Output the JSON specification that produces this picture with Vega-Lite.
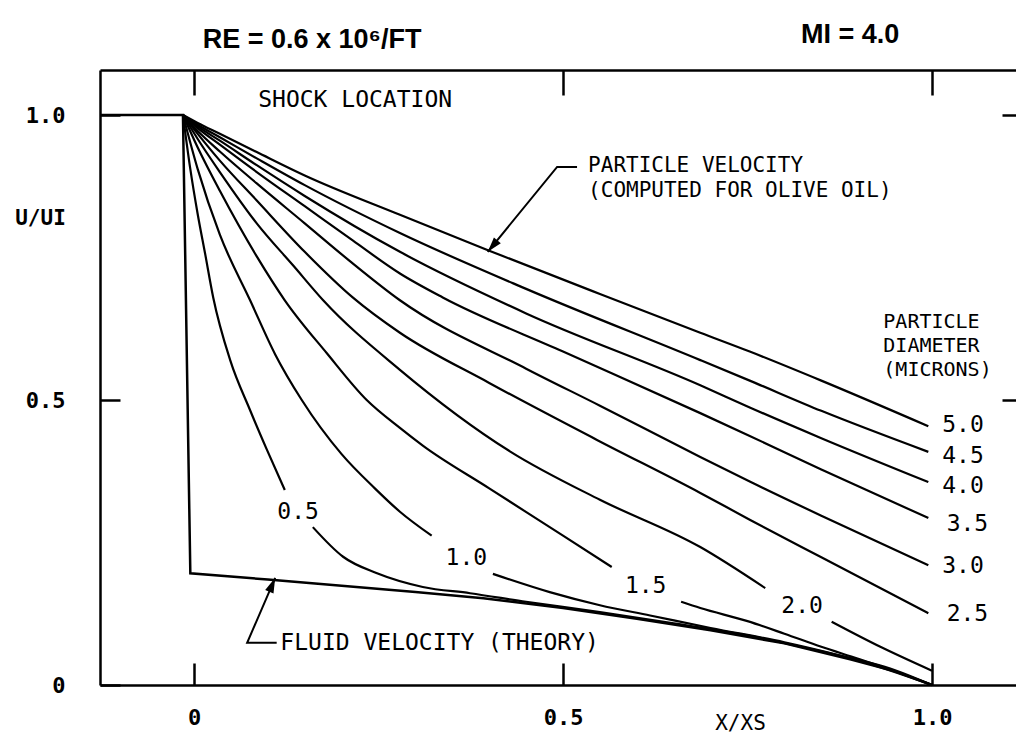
{
  "$schema": "https://vega.github.io/schema/vega-lite/v6.json",
  "width": 916,
  "height": 615,
  "autosize": {"type": "none"},
  "padding": {"left": 100, "top": 70, "right": 0, "bottom": 52},
  "background": "white",
  "config": {"view": {"stroke": null}, "axis": {"grid": false}},
  "datasets": {
    "curves": [
      {"seg":"5.0","x":-0.015,"u":1},{"seg":"5.0","x":0.005,"u":0.986},{"seg":"5.0","x":0.035,"u":0.967},{"seg":"5.0","x":0.085,"u":0.935},{"seg":"5.0","x":0.15,"u":0.894},{"seg":"5.0","x":0.279,"u":0.825},{"seg":"5.0","x":0.4,"u":0.762},{"seg":"5.0","x":0.55,"u":0.686},{"seg":"5.0","x":0.686,"u":0.618},{"seg":"5.0","x":0.753,"u":0.585},{"seg":"5.0","x":0.85,"u":0.534},{"seg":"5.0","x":0.995,"u":0.454},
      {"seg":"4.5","x":-0.015,"u":1},{"seg":"4.5","x":0.005,"u":0.983},{"seg":"4.5","x":0.035,"u":0.961},{"seg":"4.5","x":0.085,"u":0.924},{"seg":"4.5","x":0.15,"u":0.877},{"seg":"4.5","x":0.279,"u":0.793},{"seg":"4.5","x":0.45,"u":0.695},{"seg":"4.5","x":0.686,"u":0.57},{"seg":"4.5","x":0.753,"u":0.534},{"seg":"4.5","x":0.85,"u":0.481},{"seg":"4.5","x":0.995,"u":0.409},
      {"seg":"4.0","x":-0.015,"u":1},{"seg":"4.0","x":0.005,"u":0.98},{"seg":"4.0","x":0.035,"u":0.955},{"seg":"4.0","x":0.085,"u":0.912},{"seg":"4.0","x":0.15,"u":0.858},{"seg":"4.0","x":0.279,"u":0.76},{"seg":"4.0","x":0.45,"u":0.652},{"seg":"4.0","x":0.686,"u":0.526},{"seg":"4.0","x":0.753,"u":0.487},{"seg":"4.0","x":0.85,"u":0.433},{"seg":"4.0","x":0.995,"u":0.356},
      {"seg":"3.5","x":-0.015,"u":1},{"seg":"3.5","x":0.005,"u":0.977},{"seg":"3.5","x":0.035,"u":0.948},{"seg":"3.5","x":0.085,"u":0.9},{"seg":"3.5","x":0.15,"u":0.84},{"seg":"3.5","x":0.215,"u":0.78},{"seg":"3.5","x":0.279,"u":0.722},{"seg":"3.5","x":0.337,"u":0.68},{"seg":"3.5","x":0.5,"u":0.585},{"seg":"3.5","x":0.686,"u":0.477},{"seg":"3.5","x":0.753,"u":0.437},{"seg":"3.5","x":0.85,"u":0.378},{"seg":"3.5","x":0.995,"u":0.293},
      {"seg":"3.0","x":-0.015,"u":1},{"seg":"3.0","x":0.005,"u":0.972},{"seg":"3.0","x":0.035,"u":0.936},{"seg":"3.0","x":0.085,"u":0.88},{"seg":"3.0","x":0.15,"u":0.81},{"seg":"3.0","x":0.21,"u":0.745},{"seg":"3.0","x":0.279,"u":0.675},{"seg":"3.0","x":0.45,"u":0.555},{"seg":"3.0","x":0.55,"u":0.49},{"seg":"3.0","x":0.686,"u":0.4},{"seg":"3.0","x":0.753,"u":0.357},{"seg":"3.0","x":0.85,"u":0.297},{"seg":"3.0","x":0.995,"u":0.21},
      {"seg":"2.5","x":-0.015,"u":1},{"seg":"2.5","x":0.005,"u":0.967},{"seg":"2.5","x":0.035,"u":0.92},{"seg":"2.5","x":0.085,"u":0.85},{"seg":"2.5","x":0.15,"u":0.76},{"seg":"2.5","x":0.215,"u":0.68},{"seg":"2.5","x":0.279,"u":0.618},{"seg":"2.5","x":0.4,"u":0.53},{"seg":"2.5","x":0.546,"u":0.43},{"seg":"2.5","x":0.686,"u":0.337},{"seg":"2.5","x":0.753,"u":0.29},{"seg":"2.5","x":0.85,"u":0.224},{"seg":"2.5","x":0.995,"u":0.126},
      {"seg":"2.0a","x":-0.015,"u":1},{"seg":"2.0a","x":0.005,"u":0.958},{"seg":"2.0a","x":0.035,"u":0.9},{"seg":"2.0a","x":0.085,"u":0.81},{"seg":"2.0a","x":0.135,"u":0.735},{"seg":"2.0a","x":0.175,"u":0.675},{"seg":"2.0a","x":0.279,"u":0.553},{"seg":"2.0a","x":0.428,"u":0.41},{"seg":"2.0a","x":0.55,"u":0.325},{"seg":"2.0a","x":0.686,"u":0.242},{"seg":"2.0a","x":0.774,"u":0.17},
      {"seg":"2.0b","x":0.864,"u":0.111},{"seg":"2.0b","x":0.93,"u":0.067},{"seg":"2.0b","x":1.0,"u":0.025},
      {"seg":"1.5a","x":-0.015,"u":1},{"seg":"1.5a","x":0.005,"u":0.943},{"seg":"1.5a","x":0.035,"u":0.867},{"seg":"1.5a","x":0.085,"u":0.752},{"seg":"1.5a","x":0.123,"u":0.675},{"seg":"1.5a","x":0.18,"u":0.582},{"seg":"1.5a","x":0.234,"u":0.5},{"seg":"1.5a","x":0.279,"u":0.451},{"seg":"1.5a","x":0.31,"u":0.42},{"seg":"1.5a","x":0.4,"u":0.345},{"seg":"1.5a","x":0.5,"u":0.262},{"seg":"1.5a","x":0.566,"u":0.207},
      {"seg":"1.5b","x":0.66,"u":0.146},{"seg":"1.5b","x":0.686,"u":0.135},{"seg":"1.5b","x":0.75,"u":0.112},{"seg":"1.5b","x":0.8,"u":0.09},{"seg":"1.5b","x":0.85,"u":0.067},{"seg":"1.5b","x":0.9,"u":0.046},{"seg":"1.5b","x":0.95,"u":0.024},{"seg":"1.5b","x":1.0,"u":0},
      {"seg":"1.0a","x":-0.015,"u":1},{"seg":"1.0a","x":0.005,"u":0.905},{"seg":"1.0a","x":0.035,"u":0.79},{"seg":"1.0a","x":0.076,"u":0.675},{"seg":"1.0a","x":0.11,"u":0.58},{"seg":"1.0a","x":0.146,"u":0.5},{"seg":"1.0a","x":0.2,"u":0.405},{"seg":"1.0a","x":0.245,"u":0.345},{"seg":"1.0a","x":0.279,"u":0.304},{"seg":"1.0a","x":0.322,"u":0.262},
      {"seg":"1.0b","x":0.405,"u":0.195},{"seg":"1.0b","x":0.482,"u":0.163},{"seg":"1.0b","x":0.55,"u":0.14},{"seg":"1.0b","x":0.618,"u":0.122},{"seg":"1.0b","x":0.7,"u":0.1},{"seg":"1.0b","x":0.8,"u":0.075},{"seg":"1.0b","x":0.9,"u":0.043},{"seg":"1.0b","x":1.0,"u":0},
      {"seg":"0.5a","x":-0.015,"u":1},{"seg":"0.5a","x":-0.005,"u":0.905},{"seg":"0.5a","x":0.005,"u":0.826},{"seg":"0.5a","x":0.015,"u":0.757},{"seg":"0.5a","x":0.026,"u":0.68},{"seg":"0.5a","x":0.049,"u":0.57},{"seg":"0.5a","x":0.076,"u":0.482},{"seg":"0.5a","x":0.099,"u":0.412},{"seg":"0.5a","x":0.123,"u":0.342},
      {"seg":"0.5b","x":0.161,"u":0.277},{"seg":"0.5b","x":0.202,"u":0.225},{"seg":"0.5b","x":0.248,"u":0.196},{"seg":"0.5b","x":0.31,"u":0.172},{"seg":"0.5b","x":0.374,"u":0.161},{"seg":"0.5b","x":0.45,"u":0.146},{"seg":"0.5b","x":0.55,"u":0.128},{"seg":"0.5b","x":0.65,"u":0.108},{"seg":"0.5b","x":0.75,"u":0.087},{"seg":"0.5b","x":0.85,"u":0.059},{"seg":"0.5b","x":0.95,"u":0.026},{"seg":"0.5b","x":1.0,"u":0}
    ],
    "fluid": [
      {"x":-0.1274,"u":1.0},{"x":-0.015,"u":1.0},{"x":-0.005,"u":0.196},{"x":0.1,"u":0.185},{"x":0.2,"u":0.174},{"x":0.3,"u":0.163},{"x":0.392,"u":0.152},{"x":0.5,"u":0.135},{"x":0.6,"u":0.116},{"x":0.7,"u":0.096},{"x":0.8,"u":0.073},{"x":0.889,"u":0.045},{"x":0.95,"u":0.024},{"x":1.0,"u":0.0}
    ],
    "leaders": [
      {"id":"p","o":1,"x":0.519,"u":0.909},{"id":"p","o":2,"x":0.492,"u":0.909},{"id":"p","o":3,"x":0.398,"u":0.76},
      {"id":"f","o":1,"x":0.112,"u":0.074},{"id":"f","o":2,"x":0.072,"u":0.074},{"id":"f","o":3,"x":0.11,"u":0.188}
    ],
    "headP": [{"x":0.398,"u":0.76}],
    "headF": [{"x":0.11,"u":0.188}],
    "notes": [
      {"t":"SHOCK LOCATION","x":0.087,"u":1.026},
      {"t":"FLUID VELOCITY (THEORY)","x":0.117,"u":0.074}
    ],
    "block1": [
      {"t":"PARTICLE VELOCITY\n(COMPUTED FOR OLIVE OIL)","x":0.534,"u":0.911}
    ],
    "block2": [
      {"t":"PARTICLE\nDIAMETER\n(MICRONS)","x":0.934,"u":0.637}
    ],
    "clabels": [
      {"t":"0.5","x":0.141,"u":0.304},{"t":"1.0","x":0.369,"u":0.223},{"t":"1.5","x":0.612,"u":0.174},{"t":"2.0","x":0.824,"u":0.139},
      {"t":"5.0","x":1.042,"u":0.456},{"t":"4.5","x":1.042,"u":0.402},{"t":"4.0","x":1.042,"u":0.349},{"t":"3.5","x":1.048,"u":0.282},{"t":"3.0","x":1.042,"u":0.209},{"t":"2.5","x":1.048,"u":0.125}
    ],
    "heads": [
      {"t":"RE = 0.6 x 10⁶/FT","x":0.16,"u":1.132},
      {"t":"MI = 4.0","x":0.889,"u":1.14}
    ]
  },
  "resolve": {"axis": {"x": "independent", "y": "independent"}},
  "layer": [
    {
      "data": {"name": "curves"},
      "mark": {"type": "line", "color": "black", "strokeWidth": 2.2, "interpolate": "monotone"},
      "encoding": {
        "x": {"field": "x", "type": "quantitative", "scale": {"domain": [-0.1274, 1.1138], "nice": false, "zero": false},
          "axis": {"orient": "bottom", "values": [0, 0.5, 1], "tickSize": -22, "tickWidth": 2.5, "tickColor": "black",
            "domainColor": "black", "domainWidth": 2.5, "labelFont": "DejaVu Sans Mono", "labelFontSize": 22, "labelFontWeight": "bold",
            "labelColor": "black", "labelPadding": 44, "labelFlush": false, "labelOverlap": false,
            "labelExpr": "datum.value == 0 ? '0' : format(datum.value, '.1f')",
            "title": "X/XS", "titleFont": "DejaVu Sans Mono", "titleFontSize": 21, "titleFontWeight": "normal", "titleColor": "black",
            "titleX": 640, "titleY": 38, "titleBaseline": "middle", "titleAnchor": null, "titleAlign": "center"}},
        "y": {"field": "u", "type": "quantitative", "scale": {"domain": [0, 1.079], "nice": false, "zero": false},
          "axis": {"orient": "left", "values": [0, 0.5, 1], "tickSize": -20, "tickWidth": 2.5, "tickColor": "black",
            "domainColor": "black", "domainWidth": 2.5, "labelFont": "DejaVu Sans Mono", "labelFontSize": 22, "labelFontWeight": "bold",
            "labelColor": "black", "labelPadding": 55, "labelFlush": false, "labelOverlap": false,
            "labelExpr": "datum.value == 0 ? '0' : format(datum.value, '.1f')",
            "title": "U/UI", "titleFont": "DejaVu Sans Mono", "titleFontSize": 21, "titleFontWeight": "bold", "titleColor": "black",
            "titleAngle": 0, "titleX": -60, "titleY": 148, "titleBaseline": "middle", "titleAlign": "center", "titleAnchor": null}},
        "detail": {"field": "seg"}
      }
    },
    {
      "data": {"name": "fluid"},
      "mark": {"type": "line", "color": "black", "strokeWidth": 2.5},
      "encoding": {
        "x": {"field": "x", "type": "quantitative", "scale": {"domain": [-0.1274, 1.1138], "nice": false, "zero": false},
          "axis": {"orient": "top", "values": [0, 0.5, 1], "tickSize": -25, "tickWidth": 2.5, "tickColor": "black",
            "domainColor": "black", "domainWidth": 2.5, "labels": false, "title": null}},
        "y": {"field": "u", "type": "quantitative", "scale": {"domain": [0, 1.079], "nice": false, "zero": false},
          "axis": {"orient": "right", "values": [0.5, 1], "tickSize": -14, "tickWidth": 2.5, "tickColor": "black",
            "domain": false, "labels": false, "title": null}}
      }
    },
    {
      "data": {"name": "leaders"},
      "mark": {"type": "line", "color": "black", "strokeWidth": 2},
      "encoding": {
        "x": {"field": "x", "type": "quantitative", "scale": {"domain": [-0.1274, 1.1138], "nice": false, "zero": false}, "axis": null},
        "y": {"field": "u", "type": "quantitative", "scale": {"domain": [0, 1.079], "nice": false, "zero": false}, "axis": null},
        "detail": {"field": "id"},
        "order": {"field": "o"}
      }
    },
    {
      "data": {"name": "headP"},
      "mark": {"type": "point", "shape": "M0,0L-0.3,1L0.3,1Z", "filled": true, "color": "black", "opacity": 1, "size": 900, "angle": 220},
      "encoding": {
        "x": {"field": "x", "type": "quantitative", "scale": {"domain": [-0.1274, 1.1138], "nice": false, "zero": false}, "axis": null},
        "y": {"field": "u", "type": "quantitative", "scale": {"domain": [0, 1.079], "nice": false, "zero": false}, "axis": null}
      }
    },
    {
      "data": {"name": "headF"},
      "mark": {"type": "point", "shape": "M0,0L-0.3,1L0.3,1Z", "filled": true, "color": "black", "opacity": 1, "size": 900, "angle": 23},
      "encoding": {
        "x": {"field": "x", "type": "quantitative", "scale": {"domain": [-0.1274, 1.1138], "nice": false, "zero": false}, "axis": null},
        "y": {"field": "u", "type": "quantitative", "scale": {"domain": [0, 1.079], "nice": false, "zero": false}, "axis": null}
      }
    },
    {
      "data": {"name": "notes"},
      "mark": {"type": "text", "font": "DejaVu Sans Mono", "fontSize": 23, "align": "left", "baseline": "middle", "color": "black"},
      "encoding": {
        "x": {"field": "x", "type": "quantitative", "scale": {"domain": [-0.1274, 1.1138], "nice": false, "zero": false}, "axis": null},
        "y": {"field": "u", "type": "quantitative", "scale": {"domain": [0, 1.079], "nice": false, "zero": false}, "axis": null},
        "text": {"field": "t"}
      }
    },
    {
      "data": {"name": "block1"},
      "mark": {"type": "text", "font": "DejaVu Sans Mono", "fontSize": 21, "lineBreak": "\n", "lineHeight": 25, "align": "left", "baseline": "middle", "color": "black"},
      "encoding": {
        "x": {"field": "x", "type": "quantitative", "scale": {"domain": [-0.1274, 1.1138], "nice": false, "zero": false}, "axis": null},
        "y": {"field": "u", "type": "quantitative", "scale": {"domain": [0, 1.079], "nice": false, "zero": false}, "axis": null},
        "text": {"field": "t"}
      }
    },
    {
      "data": {"name": "block2"},
      "mark": {"type": "text", "font": "DejaVu Sans Mono", "fontSize": 20, "lineBreak": "\n", "lineHeight": 24, "align": "left", "baseline": "middle", "color": "black"},
      "encoding": {
        "x": {"field": "x", "type": "quantitative", "scale": {"domain": [-0.1274, 1.1138], "nice": false, "zero": false}, "axis": null},
        "y": {"field": "u", "type": "quantitative", "scale": {"domain": [0, 1.079], "nice": false, "zero": false}, "axis": null},
        "text": {"field": "t"}
      }
    },
    {
      "data": {"name": "clabels"},
      "mark": {"type": "text", "font": "DejaVu Sans Mono", "fontSize": 23, "align": "center", "baseline": "middle", "color": "black"},
      "encoding": {
        "x": {"field": "x", "type": "quantitative", "scale": {"domain": [-0.1274, 1.1138], "nice": false, "zero": false}, "axis": null},
        "y": {"field": "u", "type": "quantitative", "scale": {"domain": [0, 1.079], "nice": false, "zero": false}, "axis": null},
        "text": {"field": "t"}
      }
    },
    {
      "data": {"name": "heads"},
      "mark": {"type": "text", "font": "Liberation Sans", "fontSize": 27, "fontWeight": "bold", "align": "center", "baseline": "middle", "color": "black"},
      "encoding": {
        "x": {"field": "x", "type": "quantitative", "scale": {"domain": [-0.1274, 1.1138], "nice": false, "zero": false}, "axis": null},
        "y": {"field": "u", "type": "quantitative", "scale": {"domain": [0, 1.079], "nice": false, "zero": false}, "axis": null},
        "text": {"field": "t"}
      }
    }
  ]
}
